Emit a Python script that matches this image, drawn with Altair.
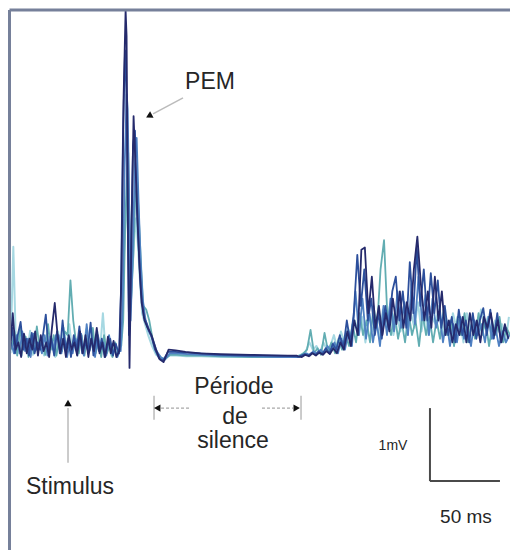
import altair as alt
import pandas as pd

# ---------------- data (time in ms, potential in mV) ----------------
TRACES = ["L", "T", "S", "B", "N"]
COLORS = ["#a6d8e2", "#62adb2", "#4f80c2", "#2c4f9c", "#252a6c"]
OFFSETS = [0.8, 1.6, 1.2, 0.0, 0.4]
WIDTHS = [2.0, 1.8, 1.8, 1.8, 1.8]

PRE_T0, PRE_STEP = 1.0, 2.0
POST_T0, POST_STEP = 207.0, 2.5
MEP_T = [79.3, 80.7, 82.1, 83.6, 84.3, 85.4, 86.4, 87.9, 89.3, 90.7, 92.1, 93.6,
         95.0, 97.1, 99.3, 102.1, 105.0, 107.9, 110.7, 114.3, 119.3, 126.4,
         137.1, 151.4, 172.9, 194.3, 205.7]

PRE_L = [0.05, 1.51, 0.05, 0.25, 0.02, 0.30, 0.08, 0.36, 0.03, 0.28, 0.10, 0.22, 0.02, 0.30,
         0.06, 0.20, 0.00, 0.35, 0.05, 0.40, 0.10, 0.45, 0.08, 0.30, 0.02, 0.25, 0.05, 0.38,
         0.07, 0.30, 0.03, 0.35, 0.10, 0.60, 0.05, 0.20, 0.02, 0.15, 0.00, 0.10]
PRE_T = [0.10, 0.35, 0.02, 0.40, 0.10, 0.28, 0.00, 0.30, 0.05, 0.42, 0.12, 0.25, 0.03, 0.45,
         0.10, 0.30, 0.02, 0.25, 0.08, 0.35, 0.30, 1.05, 0.50, 0.20, 0.05, 0.30, 0.02, 0.25,
         0.10, 0.40, 0.05, 0.20, 0.00, 0.30, 0.05, 0.15, 0.00, 0.20, 0.05, 0.15]
PRE_S = [0.20, 0.05, 0.30, 0.05, 0.35, 0.08, 0.25, 0.00, 0.32, 0.10, 0.20, 0.05, 0.30, 0.02,
         0.28, 0.10, 0.30, 0.30, 0.05, 0.30, 0.00, 0.20, 0.05, 0.25, 0.10, 0.32, 0.02, 0.45,
         0.08, 0.25, 0.00, 0.30, 0.10, 0.20, 0.02, 0.30, 0.05, 0.10, 0.00, 0.12]
PRE_B = [0.10, 0.40, 0.05, 0.30, 0.48, 0.10, 0.25, 0.02, 0.33, 0.05, 0.20, 0.10, 0.30, 0.58,
         0.10, 0.25, 0.02, 0.35, 0.05, 0.50, 0.10, 0.25, 0.00, 0.30, 0.08, 0.42, 0.05, 0.20,
         0.10, 0.47, 0.02, 0.30, 0.08, 0.25, 0.00, 0.15, 0.25, 0.02, 0.18, 0.05]
PRE_N = [0.05, 0.60, 0.10, 0.20, 0.00, 0.32, 0.05, 0.25, 0.10, 0.35, 0.02, 0.30, 0.08, 0.20,
         0.00, 0.40, 0.74, 0.30, 0.05, 0.25, 0.00, 0.30, 0.10, 0.20, 0.02, 0.35, 0.05, 0.30,
         0.00, 0.25, 0.08, 0.40, 0.05, 0.20, 0.00, 0.28, 0.05, 0.22, 0.00, 0.08]

MEP_L = [0.10, 0.40, 1.40, 2.00, 2.20, 1.30, 0.60, 1.10, 1.60, 1.90, 1.50, 1.00, 0.60, 0.45,
         0.30, 0.15, 0.03, -0.01, -0.02, 0.02, 0.02, 0.01, 0.01, 0.00, 0.00, 0.00, 0.00]
MEP_T2 = [0.15, 0.50, 1.80, 2.60, 2.80, 1.60, 0.80, 1.40, 2.20, 2.40, 1.80, 1.20, 0.70, 0.65,
          0.50, 0.20, 0.05, -0.02, -0.03, 0.03, 0.03, 0.02, 0.02, 0.01, 0.00, 0.00, 0.00]
MEP_S = [0.08, 0.70, 2.60, 3.60, 3.40, 2.00, 0.50, 1.40, 2.60, 3.00, 2.10, 1.30, 0.80, 0.50,
         0.35, 0.25, 0.08, 0.00, -0.04, 0.05, 0.05, 0.04, 0.03, 0.02, 0.01, 0.00, 0.00]
MEP_B = [0.05, 0.90, 3.00, 4.20, 3.90, 2.20, 0.30, 1.50, 2.90, 3.10, 2.00, 1.40, 0.90, 0.55,
         0.45, 0.30, 0.10, -0.02, -0.05, 0.07, 0.07, 0.06, 0.05, 0.03, 0.02, 0.02, 0.01]
MEP_N = [0.10, 1.20, 3.50, 4.75, 4.40, 1.50, -0.15, 1.80, 3.30, 2.60, 1.90, 1.20, 0.75, 0.50,
         0.40, 0.30, 0.12, -0.03, -0.07, 0.10, 0.09, 0.07, 0.05, 0.04, 0.03, 0.02, 0.02]

POST_L = [0.02, 0.04, 0.08, 0.20, 0.10, 0.15, 0.05, 0.20, 0.10, 0.15, 0.30, 0.10, 0.35, 0.20,
          0.40, 0.25, 0.50, 0.30, 0.55, 0.20, 0.60, 0.35, 0.50, 0.25, 0.65, 0.40, 0.70, 0.30,
          0.55, 0.35, 0.70, 0.30, 0.60, 0.40, 0.75, 0.35, 0.60, 0.30, 0.55, 0.45, 0.70, 0.30,
          0.55, 0.25, 0.60, 0.40, 0.50, 0.20, 0.60, 0.35, 0.50, 0.30, 0.65, 0.40, 0.55, 0.25,
          0.50, 0.35, 0.45, 0.20, 0.55]
POST_T = [0.02, 0.05, 0.10, 0.37, 0.05, 0.12, 0.03, 0.33, 0.08, 0.20, 0.05, 0.25, 0.10, 0.30,
          0.15, 0.45, 0.20, 0.60, 0.30, 0.50, 0.20, 0.70, 0.40, 1.20, 1.60, 0.50, 0.30, 0.60,
          0.25, 0.50, 0.20, 0.60, 0.30, 0.50, 0.15, 0.60, 0.30, 0.55, 0.20, 0.50, 0.25, 0.65,
          0.30, 0.50, 0.15, 0.55, 0.30, 0.60, 0.20, 0.45, 0.25, 0.60, 0.30, 0.50, 0.15, 0.45,
          0.30, 0.55, 0.20, 0.40, 0.30]
POST_S = [0.00, 0.03, 0.05, 0.02, 0.08, 0.04, 0.10, 0.05, 0.15, 0.08, 0.20, 0.05, 0.25, 0.10,
          0.35, 0.15, 0.90, 0.30, 0.80, 0.25, 0.60, 0.20, 0.50, 0.15, 0.70, 0.30, 0.80, 0.35,
          0.90, 0.40, 0.75, 0.30, 1.00, 0.45, 1.10, 0.50, 0.85, 0.30, 0.80, 0.40, 0.60, 0.20,
          0.50, 0.15, 0.45, 0.20, 0.55, 0.25, 0.40, 0.15, 0.50, 0.30, 0.45, 0.20, 0.55, 0.25,
          0.40, 0.15, 0.35, 0.20, 0.30]
POST_B = [0.00, 0.02, 0.04, 0.02, 0.06, 0.03, 0.08, 0.04, 0.12, 0.05, 0.18, 0.10, 0.30, 0.12,
          0.50, 0.20, 0.60, 1.40, 0.70, 1.20, 0.50, 0.80, 0.30, 0.60, 0.25, 0.70, 0.40, 0.90,
          1.10, 0.50, 0.90, 0.40, 1.30, 0.60, 1.50, 0.70, 1.20, 0.50, 1.15, 0.60, 1.05, 0.40,
          0.70, 0.30, 0.55, 0.20, 0.65, 0.30, 0.50, 0.20, 0.60, 0.25, 0.50, 0.67, 0.30, 0.65,
          0.25, 0.60, 0.20, 0.40, 0.30]
POST_N = [0.01, 0.00, 0.03, 0.01, 0.05, 0.02, 0.06, 0.03, 0.08, 0.04, 0.12, 0.05, 0.20, 0.10,
          0.35, 0.15, 0.50, 0.30, 1.47, 1.50, 0.60, 1.10, 0.40, 0.70, 0.30, 0.60, 0.35, 0.80,
          0.45, 0.90, 0.40, 0.75, 0.50, 1.20, 1.65, 1.00, 0.50, 0.90, 0.40, 1.10, 0.50, 0.90,
          0.30, 0.50, 0.20, 0.45, 0.30, 0.55, 0.20, 0.60, 0.30, 0.50, 0.20, 0.55, 0.40, 0.60,
          0.30, 0.50, 0.20, 0.45, 0.25]

PRE = [PRE_L, PRE_T, PRE_S, PRE_B, PRE_N]
MEP = [MEP_L, MEP_T2, MEP_S, MEP_B, MEP_N]
POST = [POST_L, POST_T, POST_S, POST_B, POST_N]

# annotations (data coordinates: ms, mV)
LABELS = ["PEM", "Période", "de", "silence", "Stimulus", "1mV", "50 ms"]
LABEL_T = [144.3, 161.4, 162.1, 160.7, 44.3, 275.0, 327.1]
LABEL_V = [3.767, -0.411, -0.822, -1.151, -1.781, -1.219, -2.192]
LABEL_SIZE = [23, 23, 23, 23, 23, 14, 19]

XD = [0.0, 358.57]
YD = [-2.644, 4.781]

# ---------------- build layers ----------------
layers = []
xs = alt.Scale(domain=XD, nice=False, zero=False)
ys = alt.Scale(domain=YD, nice=False, zero=False)


def X(f):
    return alt.X(f, type="quantitative", scale=xs, axis=None)


def Y(f):
    return alt.Y(f, type="quantitative", scale=ys, axis=None)


for name, col, off, w, pre, mep, post in zip(TRACES, COLORS, OFFSETS, WIDTHS, PRE, MEP, POST):
    t = [PRE_T0 + PRE_STEP * k + off for k in range(len(pre))]
    t += [m + off for m in MEP_T]
    t += [POST_T0 + POST_STEP * k + off for k in range(len(post))]
    v = list(pre) + list(mep) + list(post)
    d = pd.DataFrame({"t": t, "v": v, "i": range(len(t))})
    layers.append(
        alt.Chart(d).mark_line(color=col, strokeWidth=w, strokeJoin="round", clip=True).encode(
            x=X("t"), y=Y("v"), order="i:Q")
    )

# frame (left and top edges)
frame = pd.DataFrame({"t": [1.07, 1.07], "v": [-2.644, 4.753],
                      "t2": [1.07, 358.57], "v2": [4.753, 4.753]})
layers.append(alt.Chart(frame).mark_rule(color="#76809a", strokeWidth=3).encode(
    x=X("t"), y=Y("v"), x2="t2", y2="v2"))

# scale bar
bar = pd.DataFrame({"t": [301.4, 301.4], "v": [-0.70, -1.70], "t2": [301.4, 351.4], "v2": [-1.70, -1.70]})
layers.append(alt.Chart(bar).mark_rule(color="#4a4a4a", strokeWidth=2).encode(
    x=X("t"), y=Y("v"), x2="t2", y2="v2"))

# light arrow shafts
shafts = pd.DataFrame({"t": [42.86, 125.0, 104.3, 209.3], "v": [-1.45, 3.55, -0.53, -0.86],
                       "t2": [42.86, 103.6, 104.3, 209.3], "v2": [-0.70, 3.33, -0.86, -0.53]})
layers.append(alt.Chart(shafts).mark_rule(color="#bbbbbb", strokeWidth=1.5).encode(
    x=X("t"), y=Y("v"), x2="t2", y2="v2"))

dashed = pd.DataFrame({"t": [109.3, 181.4], "v": [-0.70, -0.70], "t2": [130.0, 203.6], "v2": [-0.70, -0.70]})
layers.append(alt.Chart(dashed).mark_rule(color="#a8a8a8", strokeWidth=1.2, strokeDash=[3, 2]).encode(
    x=X("t"), y=Y("v"), x2="t2", y2="v2"))

# arrow heads
heads = pd.DataFrame({"t": [42.86, 100.7, 106.6, 206.2], "v": [-0.63, 3.30, -0.70, -0.70],
                      "a": [0, 242, 270, 90]})
layers.append(alt.Chart(heads).mark_point(shape="triangle-up", filled=True, color="#111111",
                                          size=55, opacity=1).encode(
    x=X("t"), y=Y("v"), angle=alt.Angle("a:Q", scale=None)))

# texts
lab = pd.DataFrame({"t": LABEL_T, "v": LABEL_V, "txt": LABELS, "fs": LABEL_SIZE})
layers.append(alt.Chart(lab).mark_text(font="Liberation Sans", color="#262626",
                                       baseline="middle", align="center").encode(
    x=X("t"), y=Y("v"), text="txt:N", size=alt.Size("fs:Q", scale=None)))

chart = alt.layer(*layers).properties(
    width=502, height=542,
    autosize=alt.AutoSizeParams(type="none"),
    padding=0, background="#ffffff",
).configure_view(stroke=None)

chart.save("out.html", embed_options={"renderer": "svg", "actions": False})
